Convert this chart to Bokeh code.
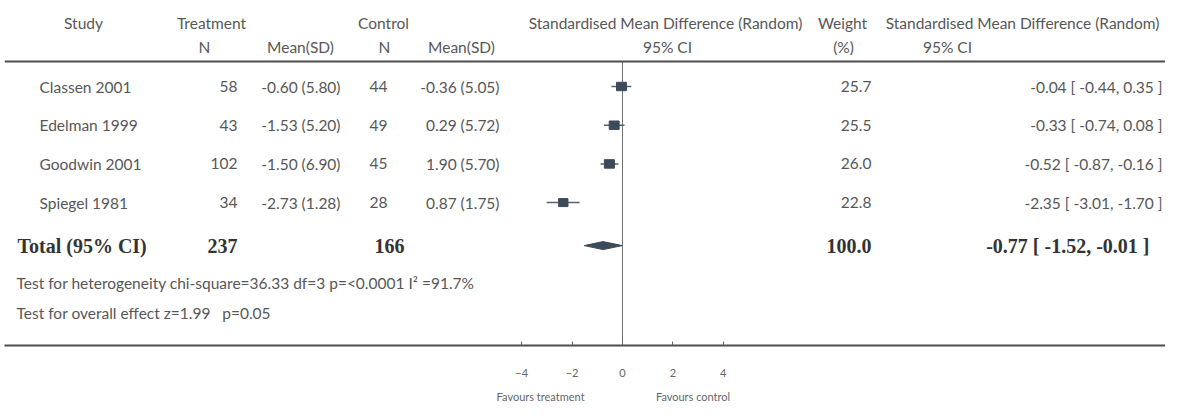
from bokeh.plotting import figure
from bokeh.models import Range1d, LinearAxis, FixedTicker, Span, ColumnDataSource
from bokeh.core.properties import value
from bokeh.embed import file_html
from bokeh.resources import INLINE

# ---------------- data ----------------
studies = ["Classen 2001", "Edelman 1999", "Goodwin 2001", "Spiegel 1981"]
treat_n = [58, 43, 102, 34]
treat_mean = [-0.60, -1.53, -1.50, -2.73]
treat_sd = [5.80, 5.20, 6.90, 1.28]
ctrl_n = [44, 49, 45, 28]
ctrl_mean = [-0.36, 0.29, 1.90, 0.87]
ctrl_sd = [5.05, 5.72, 5.70, 1.75]
smd = [-0.04, -0.33, -0.52, -2.35]
smd_lo = [-0.44, -0.74, -0.87, -3.01]
smd_hi = [0.35, 0.08, -0.16, -1.70]
weight = [25.7, 25.5, 26.0, 22.8]
total_treat_n = 237
total_ctrl_n = 166
total_weight = 100.0
total_smd = -0.77
total_lo = -1.52
total_hi = -0.01
heterogeneity = "Test for heterogeneity chi-square=36.33 df=3 p=<0.0001 I\u00b2 =91.7%"
overall = "Test for overall effect z=1.99\u00a0\u00a0\u00a0p=0.05"
axis_ticks = [-4, -2, 0, 2, 4]
favours = {-3.25: "Favours treatment", 2.8: "Favours control"}

# ---------------- layout ----------------
W, H = 1165, 406
BORDER_L = 4
FRAME_H = 345
ZERO_X = 630.0     # page x of SMD = 0
SCALE = 25.2       # px per SMD unit
PAGE_X0 = 8 + BORDER_L
frame_w = W - BORDER_L


def px(page_x):
    return (page_x - ZERO_X) / SCALE


x_start = px(PAGE_X0)
x_end = px(PAGE_X0 + frame_w)

p = figure(width=W, height=H, output_backend="svg", toolbar_location=None,
           x_range=Range1d(x_start, x_end), y_range=Range1d(FRAME_H, 0),
           x_axis_type=None, y_axis_type=None,
           min_border_left=BORDER_L, min_border_right=0, min_border_top=0,
           min_border_bottom=H - FRAME_H)
p.outline_line_color = None
p.xgrid.visible = False
p.ygrid.visible = False
p.background_fill_color = "white"
p.border_fill_color = "white"

FONT = value("Lato")
SERIF = value("Liberation Serif")
TXT = "#575757"
DARK = "#333333"
MARK = "#3c4a5a"
FS = "15.5px"
FS_TOT = "20px"

Y_H1, Y_H2, Y_LINE = 22, 46, 61
row_y = [86 + 38.7 * i for i in range(len(studies))]
Y_TOT = row_y[-1] + 43
Y_HET = Y_TOT + 37
Y_OVR = Y_HET + 30


def txt(x, y, s, align="left", size=FS, font=FONT, color=TXT, style="normal"):
    p.text(x=[px(x)], y=[y], text=[s], text_align=align, text_baseline="middle",
           text_font=font, text_font_size=size, text_color=color, text_font_style=style)


# headers
txt(91, Y_H1, "Study", "center")
txt(219, Y_H1, "Treatment", "center")
txt(391, Y_H1, "Control", "center")
txt(212, Y_H2, "N", "center")
txt(308, Y_H2, "Mean(SD)", "center")
txt(392, Y_H2, "N", "center")
txt(469, Y_H2, "Mean(SD)", "center")
txt(673, Y_H1, "Standardised Mean Difference (Random)", "center")
txt(675, Y_H2, "95% CI", "center")
txt(850, Y_H1, "Weight", "center")
txt(851, Y_H2, "(%)", "center")
txt(1030, Y_H1, "Standardised Mean Difference (Random)", "center")
txt(955, Y_H2, "95% CI", "center")

p.add_layout(Span(location=Y_LINE, dimension="width", line_color="#4d4d4d", line_width=2))

# zero line
p.segment(x0=[0], y0=[Y_LINE], x1=[0], y1=[FRAME_H], line_color="#707070", line_width=1)

# study rows
src = ColumnDataSource(dict(
    y=row_y, study=studies, smd=smd, lo=smd_lo, hi=smd_hi,
    tn=[str(v) for v in treat_n],
    tms=[f"{m:.2f} ({s:.2f})" for m, s in zip(treat_mean, treat_sd)],
    cn=[str(v) for v in ctrl_n],
    cms=[f"{m:.2f} ({s:.2f})" for m, s in zip(ctrl_mean, ctrl_sd)],
    w=[f"{v:.1f}" for v in weight],
    ci=[f"{e:.2f} [ {l:.2f}, {h:.2f} ]" for e, l, h in zip(smd, smd_lo, smd_hi)],
    msize=[10 * (v / 26.0) ** 0.5 for v in weight],
    mh=[8.5 * (v / 26.0) ** 0.5 for v in weight],
))

p.segment(x0="lo", y0="y", x1="hi", y1="y", source=src, line_color="#56636f", line_width=1.5)
p.rect(x="smd", y="y", width="msize", height="mh", width_units="screen", height_units="screen",
       source=src, fill_color=MARK, line_color=MARK)


def col(xpage, field, align):
    cols = dict(src.data)
    p.text(x=[px(xpage)] * len(studies), y=row_y, text=cols[field], text_align=align,
           text_baseline="middle", text_font=FONT, text_font_size=FS, text_color=TXT)


col(47, "study", "left")
col(245, "tn", "right")
col(348, "tms", "right")
col(395, "cn", "right")
col(507, "cms", "right")
col(879, "w", "right")
col(1170, "ci", "right")

# total row
txt(25, Y_TOT, "Total (95% CI)", "left", FS_TOT, SERIF, DARK, "bold")
txt(245, Y_TOT, str(total_treat_n), "right", FS_TOT, SERIF, DARK, "bold")
txt(412, Y_TOT, str(total_ctrl_n), "right", FS_TOT, SERIF, DARK, "bold")
txt(879, Y_TOT, f"{total_weight:.1f}", "right", FS_TOT, SERIF, DARK, "bold")
txt(1157, Y_TOT, f"{total_smd:.2f} [ {total_lo:.2f}, {total_hi:.2f} ]", "right", FS_TOT, SERIF, DARK, "bold")

h = 4
p.patch(x=[total_lo, total_smd, total_hi, total_smd], y=[Y_TOT, Y_TOT - h, Y_TOT, Y_TOT + h],
        fill_color=MARK, line_color=MARK)

txt(24, Y_HET, heterogeneity, "left", FS)
txt(24, Y_OVR, overall, "left", FS)

# axes
ax = LinearAxis(ticker=FixedTicker(ticks=axis_ticks))
ax.axis_line_color = "#4d4d4d"
ax.axis_line_width = 2
ax.major_tick_in = 4
ax.major_tick_out = 0
ax.major_tick_line_color = "#666666"
ax.minor_tick_line_color = None
ax.major_label_standoff = 23
ax.major_label_text_font = "Lato"
ax.major_label_text_font_size = "11px"
ax.major_label_text_color = "#666666"
p.add_layout(ax, "below")

ax2 = LinearAxis(ticker=FixedTicker(ticks=list(favours.keys())))
ax2.major_label_overrides = favours
ax2.axis_line_color = None
ax2.major_tick_line_color = None
ax2.minor_tick_line_color = None
ax2.major_tick_in = 0
ax2.major_tick_out = 0
ax2.major_label_standoff = 10
ax2.major_label_text_font = "Lato"
ax2.major_label_text_font_size = "11px"
ax2.major_label_text_color = "#666666"
p.add_layout(ax2, "below")

with open("out.html", "w") as f:
    f.write(file_html(p, INLINE))
